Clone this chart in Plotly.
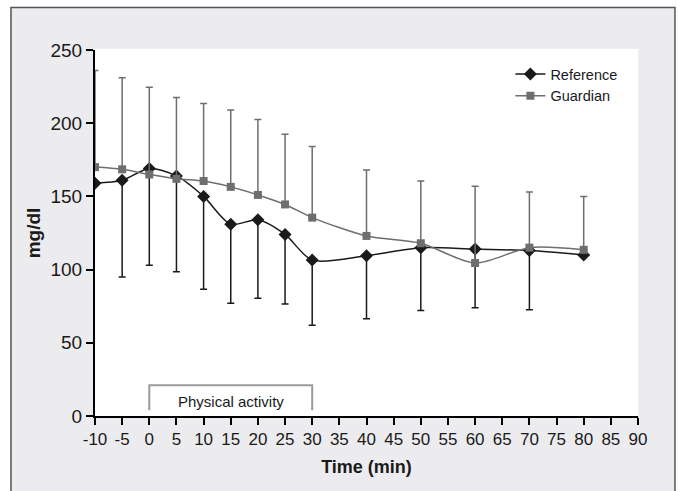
import plotly.graph_objects as go

time_min = [-10, -5, 0, 5, 10, 15, 20, 25, 30, 40, 50, 60, 70, 80]

reference_mean = [159, 161, 169, 164, 150, 131, 134, 124, 106.5, 109.5, 115, 114, 113, 110]
reference_lower = [159, 95, 103, 98.5, 86.5, 77, 80.5, 76.5, 62, 66.5, 72, 74, 72.5, 110]

guardian_mean = [170, 168.5, 165, 162, 160.5, 156.5, 151, 144.5, 135.5, 123, 118, 104.5, 115, 113.5]
guardian_upper = [236, 231, 224.5, 217.5, 213.5, 209, 202.5, 192.5, 184, 168, 160.5, 157, 153, 150]

x_ticks = list(range(-10, 95, 5))
y_ticks = [0, 50, 100, 150, 200, 250]

activity_start, activity_end = 0, 30
activity_label = "Physical activity"

FONT = "Liberation Sans, Arial, sans-serif"
DARK = "#1a1a1a"
GRAY = "#6e6e6e"

fig = go.Figure()

fig.add_trace(go.Scatter(
    x=time_min, y=reference_mean, name="Reference", mode="lines+markers",
    line=dict(color=DARK, width=1.5, shape="spline", smoothing=0.8),
    marker=dict(symbol="diamond", size=10, color=DARK),
    error_y=dict(type="data", symmetric=False,
                 array=[0] * len(time_min),
                 arrayminus=[m - lo for m, lo in zip(reference_mean, reference_lower)],
                 color=DARK, thickness=1.5, width=3.5),
))

fig.add_trace(go.Scatter(
    x=time_min, y=guardian_mean, name="Guardian", mode="lines+markers",
    line=dict(color=GRAY, width=1.5, shape="spline", smoothing=0.8),
    marker=dict(symbol="square", size=8, color=GRAY),
    error_y=dict(type="data", symmetric=False,
                 array=[u - m for m, u in zip(guardian_mean, guardian_upper)],
                 arrayminus=[0] * len(time_min),
                 color=GRAY, thickness=1.5, width=3.5),
))

# Physical activity bracket
fig.add_shape(type="path",
              path=f"M {activity_start},4 L {activity_start},21 L {activity_end},21 L {activity_end},4",
              xref="x", yref="y", line=dict(color="#9a9a9a", width=2))
fig.add_annotation(x=(activity_start + activity_end) / 2, y=10, text=activity_label,
                   showarrow=False, xref="x", yref="y",
                   font=dict(family=FONT, size=15, color=DARK))

# outer grey frame, then white plotting area on top of it
fig.add_shape(type="rect", xref="paper", yref="paper",
              x0=-0.1547, x1=1.0681, y0=-0.25, y1=1.1161,
              fillcolor="#ececee", line=dict(color="#555555", width=1.5), layer="below")
fig.add_shape(type="rect", xref="paper", yref="paper",
              x0=0, x1=1, y0=0, y1=1.003,
              fillcolor="white", line=dict(width=0), layer="below")

fig.update_layout(
    width=678, height=491,
    margin=dict(l=95, r=40, t=50, b=75),
    paper_bgcolor="white", plot_bgcolor="white",
    font=dict(family=FONT, color=DARK),
    showlegend=True,
    legend=dict(x=0.765, y=0.978, xanchor="left", yanchor="top",
                bgcolor="rgba(0,0,0,0)", font=dict(family=FONT, size=14.5, color=DARK),
                itemwidth=30, tracegroupgap=0),
    xaxis=dict(range=[-10, 90], tickvals=x_ticks, ticktext=[str(v) for v in x_ticks],
               showgrid=False, zeroline=False, showline=True, linecolor="black", linewidth=2,
               ticks="outside", ticklen=7, tickwidth=2, tickcolor="black",
               tickfont=dict(family=FONT, size=17, color=DARK),
               title=dict(text="<b>Time (min)</b>", font=dict(family=FONT, size=18, color=DARK), standoff=12)),
    yaxis=dict(range=[0, 250], tickvals=y_ticks,
               showgrid=False, zeroline=False, showline=True, linecolor="black", linewidth=2,
               ticks="outside", ticklen=7, tickwidth=2, tickcolor="black",
               tickfont=dict(family=FONT, size=19, color=DARK),
               title=dict(text="<b>mg/dl</b>", font=dict(family=FONT, size=19, color=DARK), standoff=5)),
)

fig.write_html("out.html", config={"displayModeBar": False},
               post_script="document.body.style.margin='0';")
